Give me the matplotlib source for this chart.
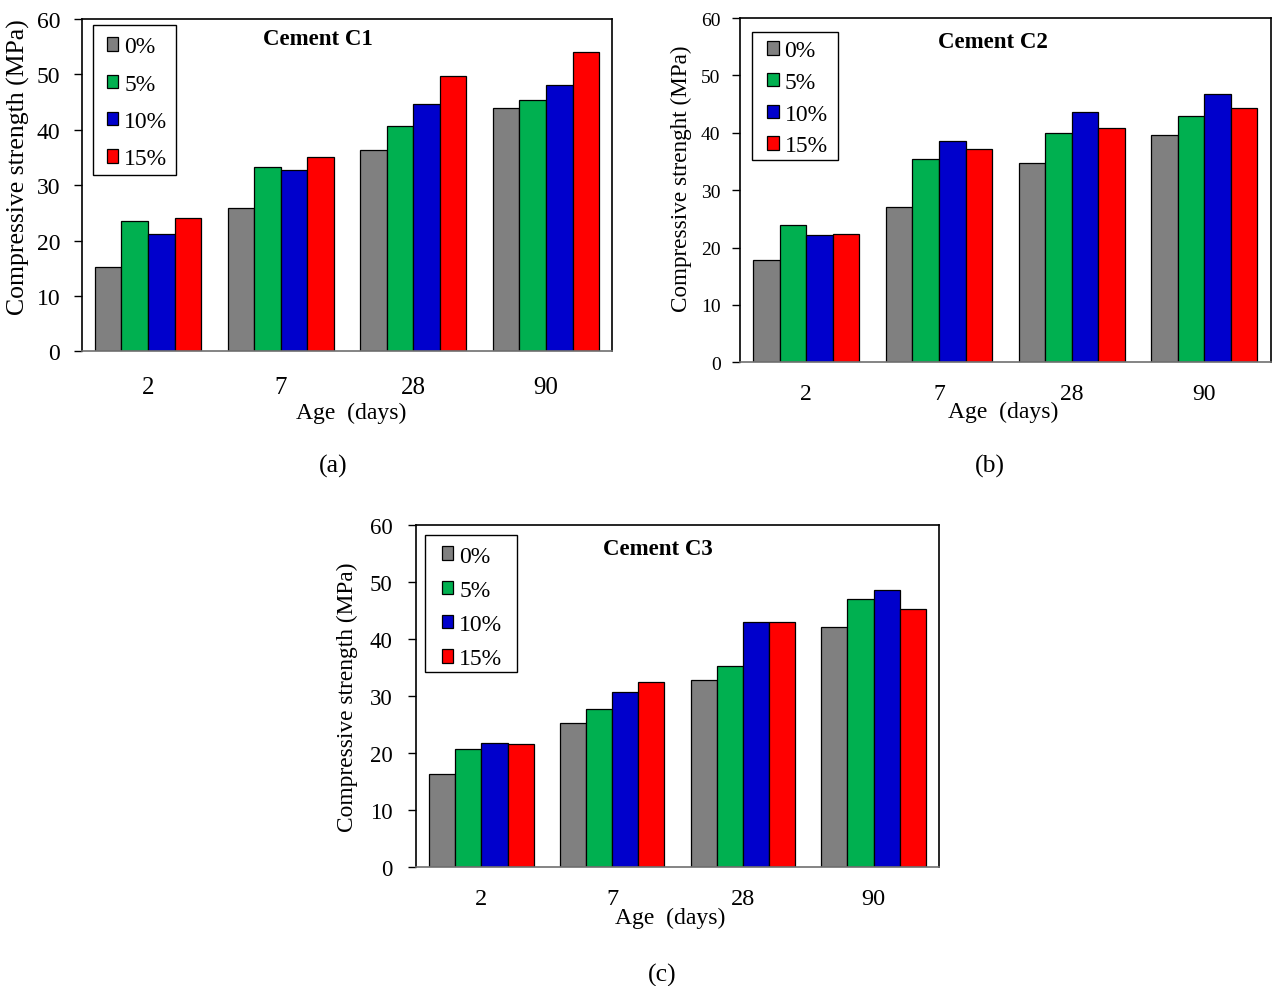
import numpy as np
import matplotlib
matplotlib.use('Agg')
import matplotlib.pyplot as plt
from matplotlib.patches import Rectangle

plt.rcParams['font.family'] = ['Liberation Serif', 'DejaVu Serif']

ages = ['2', '7', '28', '90']
series = ['0%', '5%', '10%', '15%']
colors = ['#808080', '#00B050', '#0000CC', '#FF0000']

c1_0 = [15.2, 25.9, 36.3, 44.0]
c1_5 = [23.6, 33.2, 40.6, 45.3]
c1_10 = [21.2, 32.8, 44.6, 48.0]
c1_15 = [24.0, 35.0, 49.7, 54.0]

c2_0 = [17.8, 27.1, 34.8, 39.6]
c2_5 = [23.9, 35.5, 40.0, 43.0]
c2_10 = [22.1, 38.5, 43.6, 46.7]
c2_15 = [22.4, 37.2, 40.9, 44.3]

c3_0 = [16.3, 25.2, 32.8, 42.0]
c3_5 = [20.6, 27.6, 35.2, 47.0]
c3_10 = [21.7, 30.6, 42.9, 48.5]
c3_15 = [21.5, 32.4, 43.0, 45.2]

W, H = 1272, 987
fig = plt.figure(figsize=(W / 100, H / 100), dpi=100)


def px_axes(left, top, right, bottom):
    return fig.add_axes([left / W, 1 - bottom / H, (right - left) / W, (bottom - top) / H])


def draw(ax, data, title, ylabel, yfs, ypad, xfs, xpad, ylab_fs, ylab_xy,
         xlab_xy, title_xy, leg_anchor, leg_space, leg_box):
    x = np.arange(len(ages))
    w = 0.2
    for i, vals in enumerate(data):
        ax.bar(x + (i - 1.5) * w, vals, w, color=colors[i], edgecolor='black',
               linewidth=0.9, label=series[i], zorder=2)
    ax.set_xlim(-0.5, 3.5)
    ax.set_ylim(0, 60)
    ax.set_yticks(range(0, 61, 10))
    ax.set_xticks(x)
    ax.set_xticklabels(ages)
    ax.tick_params(axis='x', length=0, labelsize=xfs, pad=xpad)
    ax.tick_params(axis='y', length=6, width=1, labelsize=yfs, pad=ypad)
    for s in ax.spines.values():
        s.set_linewidth(1.2)
        s.set_color('black')
    ax.spines['bottom'].set_color('#707070')
    ax.set_ylabel(ylabel, fontsize=ylab_fs)
    ax.yaxis.set_label_coords(*ylab_xy)
    ax.set_xlabel('Age  (days)', fontsize=17, va='center')
    ax.xaxis.set_label_coords(*xlab_xy)
    ax.text(title_xy[0], title_xy[1], title, transform=ax.transAxes, ha='center',
            va='center', fontsize=16.5, fontweight='bold')
    # legend frame drawn separately (wider side padding than the top/bottom)
    ax.add_patch(Rectangle(leg_box[:2], leg_box[2], leg_box[3], transform=ax.transAxes,
                           facecolor='white', edgecolor='black', linewidth=1.0, zorder=4))
    ax.legend(loc='upper left', bbox_to_anchor=leg_anchor, borderaxespad=0,
              fontsize=17, handlelength=0.5, handleheight=0.5,
              handletextpad=0.24, labelspacing=leg_space, frameon=False,
              borderpad=0)


ax1 = px_axes(81.7, 20, 612.3, 352.3)
draw(ax1, [c1_0, c1_5, c1_10, c1_15], 'Cement C1', 'Compressive strength (MPa)',
     17, 9.5, 18, 17.5, 18.5, (-0.097, 0.558), (0.508, -0.183),
     (0.445, 0.94), (0.0471, 0.9477), 0.69, (0.0207, 0.5305, 0.157, 0.4514))

ax2 = px_axes(740, 19, 1270.7, 363.3)
draw(ax2, [c2_0, c2_5, c2_10, c2_15], 'Cement C2', 'Compressive strenght (MPa)',
     14, 8, 17, 15, 16.7, (-0.090, 0.535), (0.496, -0.144),
     (0.477, 0.933), (0.0509, 0.935), 0.45, (0.0226, 0.5876, 0.162, 0.3718))

ax3 = px_axes(416, 525.7, 939, 867.7)
draw(ax3, [c3_0, c3_5, c3_10, c3_15], 'Cement C3', 'Compressive strength (MPa)',
     16.5, 11, 17.5, 15, 16.8, (-0.111, 0.499), (0.486, -0.147),
     (0.463, 0.929), (0.0491, 0.939), 0.56, (0.0172, 0.5693, 0.1753, 0.4006))

fig.text(333 / W, 1 - 466 / H, '(a)', ha='center', va='center', fontsize=18.5)
fig.text(990 / W, 1 - 466 / H, '(b)', ha='center', va='center', fontsize=18.5)
fig.text(662 / W, 1 - 975 / H, '(c)', ha='center', va='center', fontsize=18.5)

fig.savefig('out.png', dpi=100)
